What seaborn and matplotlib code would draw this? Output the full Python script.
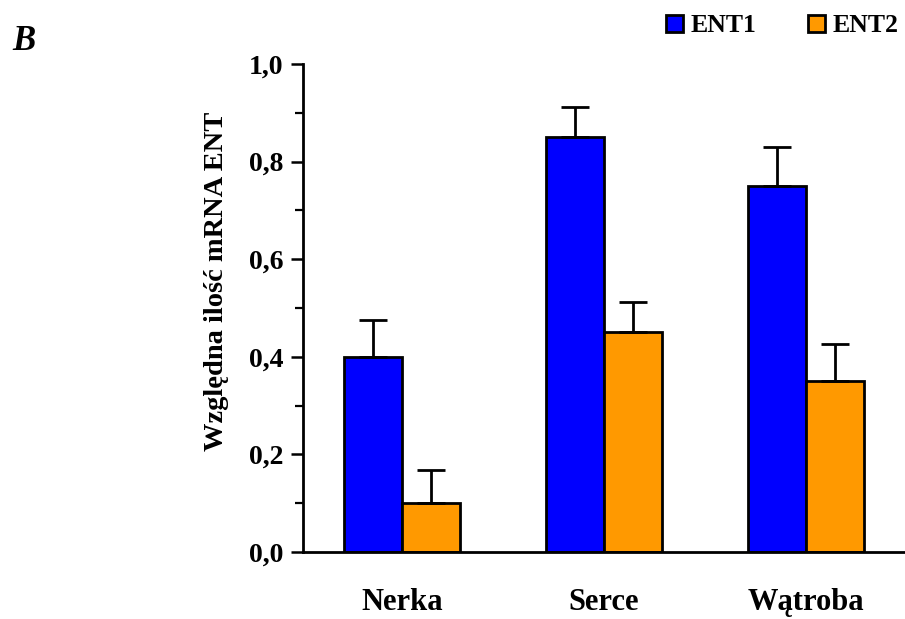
import numpy as np
import pandas as pd
import matplotlib
matplotlib.use("Agg")
import matplotlib.pyplot as plt
from matplotlib.patches import Patch
from matplotlib.ticker import MultipleLocator, FuncFormatter
import seaborn as sns

# ---- data ----
organs = ["Nerka", "Serce", "Wątroba"]
genes = ["ENT1", "ENT2"]
ent1_values = [0.40, 0.85, 0.75]
ent2_values = [0.10, 0.45, 0.35]
ent1_err = [0.076, 0.062, 0.079]
ent2_err = [0.068, 0.062, 0.076]
colors = ["#0000FF", "#FF9900"]

df = pd.DataFrame({
    "organ": organs * 2,
    "gene": [genes[0]] * 3 + [genes[1]] * 3,
    "value": ent1_values + ent2_values,
})

sns.set_style("ticks")
plt.rcParams["font.family"] = ["Liberation Serif", "DejaVu Serif"]
plt.rcParams["font.weight"] = "bold"
for k in ["text.color", "axes.labelcolor", "xtick.color", "ytick.color",
          "axes.edgecolor"]:
    plt.rcParams[k] = "black"

fig = plt.figure(figsize=(9.05, 6.19), dpi=100)
ax = fig.add_axes([303 / 905, 1 - 552 / 619, 1 - 303 / 905, (552 - 64) / 619])

sns.barplot(data=df, x="organ", y="value", hue="gene", order=organs,
            hue_order=genes, palette=colors, width=0.574, errorbar=None,
            edgecolor="black", linewidth=2.0, saturation=1, legend=False, ax=ax)

# error bars (upper only)
errs = [ent1_err, ent2_err]
vals = [ent1_values, ent2_values]
for cont, e, v in zip(ax.containers, errs, vals):
    xs = [p.get_x() + p.get_width() / 2 for p in cont.patches]
    ax.errorbar(xs, v, yerr=[np.zeros(len(e)), e], fmt="none",
                ecolor="black", elinewidth=2.0, capsize=10, capthick=2.0,
                zorder=1)

ax.set_ylim(0, 1.0)
ax.set_xlim(-0.49, 2.49)
ax.yaxis.set_major_locator(MultipleLocator(0.2))
ax.yaxis.set_minor_locator(MultipleLocator(0.1))
ax.yaxis.set_major_formatter(FuncFormatter(lambda y, p: f"{y:.1f}".replace(".", ",")))
ax.tick_params(axis="y", which="major", length=9, width=1.8, labelsize=20, pad=5,
               color="black", labelcolor="black")
ax.tick_params(axis="y", which="minor", length=6, width=1.6, color="black")
ax.tick_params(axis="x", length=0, labelsize=22, pad=26, labelcolor="black")
for lab in ax.get_xticklabels() + ax.get_yticklabels():
    lab.set_fontweight("bold")

for s in ["top", "right"]:
    ax.spines[s].set_visible(False)
for s in ["left", "bottom"]:
    ax.spines[s].set_linewidth(2.0)
    ax.spines[s].set_color("black")

ax.set_xlabel("")
ax.set_ylabel("Względna ilość mRNA ENT", fontsize=20.5, fontweight="bold",
              va="center", color="black")
ax.yaxis.set_label_coords(-0.143, 0.555)

handles = [Patch(facecolor=c, edgecolor="black", linewidth=2.0) for c in colors]
fig.legend(handles, genes, loc="center left", bbox_to_anchor=(666 / 905, 1 - 26 / 619),
           ncol=2, frameon=False, labelcolor="black",
           prop={"family": "Liberation Serif", "weight": "bold", "size": 18.5},
           handlelength=0.66, handleheight=0.66, handletextpad=0.3,
           columnspacing=2.0, borderpad=0, borderaxespad=0)

fig.text(12 / 905, 1 - 42 / 619, "B", fontsize=25, fontweight="bold",
         fontstyle="italic", ha="left", va="center", color="black")

fig.savefig("out.png", dpi=100)
